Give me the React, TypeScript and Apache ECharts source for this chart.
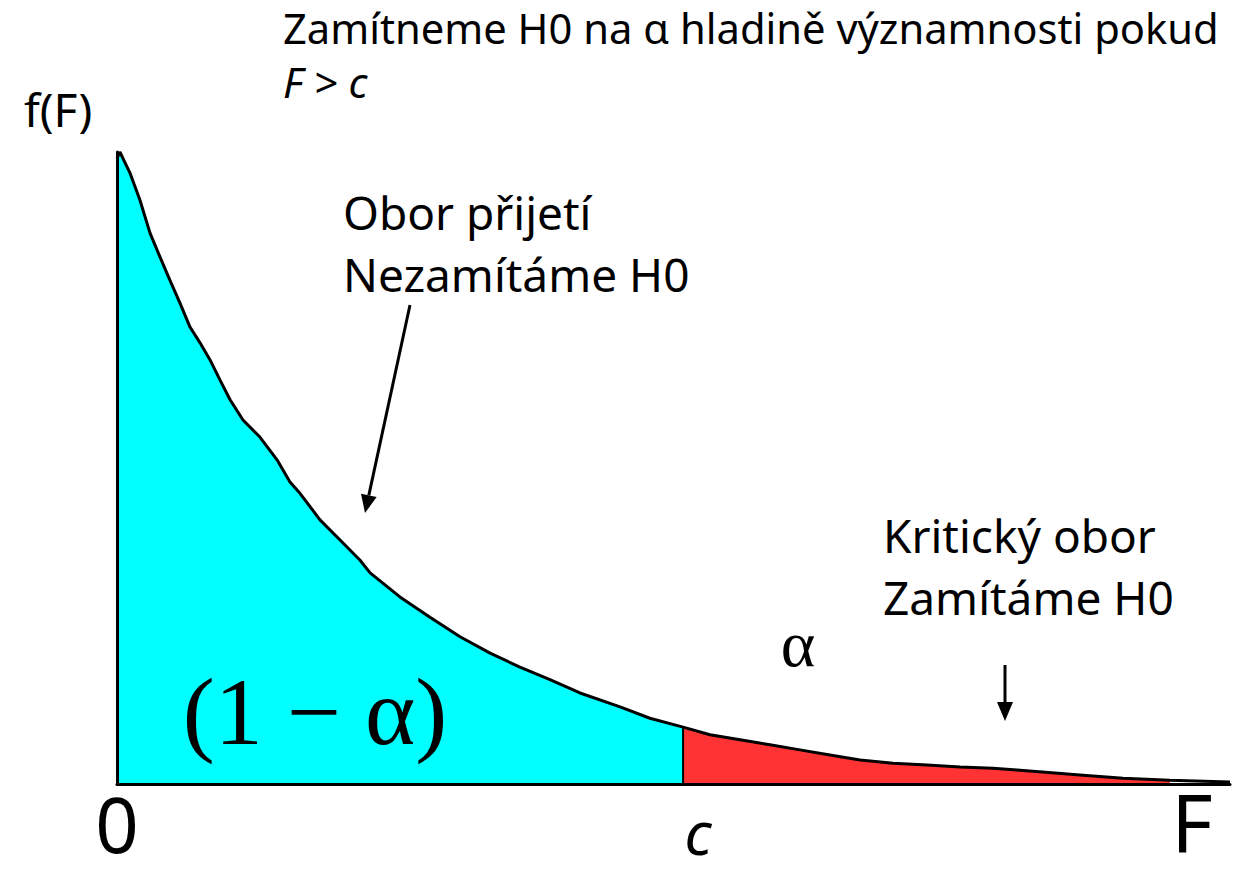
import React, { useEffect, useRef } from "react";
import * as echarts from "echarts";

// F-distribution density (x in F units 0..5, y relative to peak)
const curveX = [0, 0.013, 0.058, 0.103, 0.148, 0.193, 0.238, 0.283, 0.328, 0.373, 0.418, 0.463, 0.508, 0.566, 0.642, 0.719, 0.777, 0.822, 0.912, 1.002, 1.092, 1.137, 1.271, 1.406, 1.541, 1.676, 1.81, 1.945, 2.08, 2.26, 2.394, 2.543, 2.664, 2.799, 2.933, 3.068, 3.203, 3.338, 3.486, 3.639, 3.787, 3.935, 4.043, 4.34, 4.519, 4.73, 5.0];
const curveY = [0.99, 1.0, 0.967, 0.924, 0.872, 0.834, 0.797, 0.761, 0.723, 0.698, 0.671, 0.639, 0.608, 0.576, 0.549, 0.513, 0.478, 0.46, 0.418, 0.386, 0.354, 0.334, 0.296, 0.264, 0.233, 0.207, 0.185, 0.165, 0.144, 0.122, 0.104, 0.09, 0.078, 0.07, 0.062, 0.054, 0.046, 0.038, 0.033, 0.03, 0.027, 0.025, 0.022, 0.014, 0.009, 0.006, 0.003];
const criticalC = 2.543;
const redEnd = 4.73;
const xMax = 5;
const yMax = 1;

const titleLine1 = "Zamítneme H0 na α hladině významnosti pokud";
const titleLine2 = "F > c";
const yAxisName = "f(F)";
const acceptLines = ["Obor přijetí", "Nezamítáme H0"];
const rejectLines = ["Kritický obor", "Zamítáme H0"];
const acceptArea = "(1 − α)";
const rejectArea = "α";
const xLabels = ["0", "c", "F"];

const SANS = "'Noto Sans', 'Open Sans', sans-serif";
const SERIF = "'Liberation Serif', 'DejaVu Serif', serif";

export default function App() {
  const ref = useRef<HTMLDivElement>(null);
  useEffect(() => {
    document.body.style.margin = "0";
    if (!ref.current) return;
    const chart = echarts.init(ref.current, undefined, { renderer: "svg" });
    const pts = curveX.map((x, i) => [x, curveY[i]]);
    const cyanPts = pts.filter((p) => p[0] <= criticalC);
    const redPts = pts.filter((p) => p[0] >= criticalC && p[0] <= redEnd);
    const cIdx = curveX.indexOf(criticalC);
    const cY = curveY[cIdx];

    const txt = (text: string, x: number, y: number, size: number, opts: any = {}) => ({
      type: "text",
      x,
      y,
      z: 100,
      style: {
        text,
        fontSize: size,
        fontFamily: opts.family || SANS,
        fontStyle: opts.italic ? "italic" : "normal",
        fill: "#000",
        textAlign: opts.align || "left",
        textVerticalAlign: "middle",
      },
    });

    // arrow 1 geometry
    const a1s = [410, 305];
    const a1t = [365, 513];
    const dx = a1t[0] - a1s[0];
    const dy = a1t[1] - a1s[1];
    const len = Math.sqrt(dx * dx + dy * dy);
    const ux = dx / len;
    const uy = dy / len;
    const hl = 18;
    const hw = 8;
    const bx = a1t[0] - ux * hl;
    const by = a1t[1] - uy * hl;

    chart.setOption({
      animation: false,
      backgroundColor: "#fff",
      grid: { left: 117, right: 21, top: 152, bottom: 91, containLabel: false },
      xAxis: {
        type: "value",
        min: 0,
        max: xMax,
        z: 10,
        axisLine: { show: true, onZero: false, lineStyle: { color: "#000", width: 3 } },
        axisTick: { show: false },
        axisLabel: { show: false },
        splitLine: { show: false },
      },
      yAxis: {
        type: "value",
        min: 0,
        max: yMax,
        z: 10,
        axisLine: { show: true, lineStyle: { color: "#000", width: 3 } },
        axisTick: { show: false },
        axisLabel: { show: false },
        splitLine: { show: false },
      },
      series: [
        {
          type: "line",
          data: cyanPts,
          showSymbol: false,
          lineStyle: { width: 0 },
          areaStyle: { color: "#00FFFF", opacity: 1 },
          z: 1,
        },
        {
          type: "line",
          data: redPts,
          showSymbol: false,
          lineStyle: { width: 0 },
          areaStyle: { color: "#FF3333", opacity: 1 },
          z: 1,
        },
        {
          type: "line",
          data: [
            [criticalC, 0],
            [criticalC, cY],
          ],
          showSymbol: false,
          lineStyle: { color: "#000", width: 2 },
          z: 3,
        },
        {
          type: "line",
          data: pts,
          showSymbol: false,
          lineStyle: { color: "#000", width: 3 },
          z: 4,
        },
      ],
      graphic: [
        txt(titleLine1, 283, 27, 41.7),
        txt(titleLine2, 283, 81, 41.7, { italic: true }),
        txt(yAxisName, 24, 109, 46),
        txt(acceptLines[0], 343, 212, 46),
        txt(acceptLines[1], 343, 274, 46),
        txt(rejectLines[0], 883, 535, 46),
        txt(rejectLines[1], 883, 597, 46),
        txt(rejectArea, 798, 643, 66, { family: SERIF, align: "center" }),
        txt(acceptArea, 315, 711, 96, { family: SERIF, align: "center" }),
        txt(xLabels[0], 117, 823, 76, { align: "center" }),
        txt(xLabels[1], 698, 832, 60, { align: "center", italic: true }),
        txt(xLabels[2], 1192, 820, 80, { align: "center" }),
        {
          type: "line",
          z: 100,
          shape: { x1: a1s[0], y1: a1s[1], x2: bx, y2: by },
          style: { stroke: "#000", lineWidth: 3 },
        },
        {
          type: "polygon",
          z: 100,
          shape: {
            points: [
              [a1t[0], a1t[1]],
              [bx - uy * hw, by + ux * hw],
              [bx + uy * hw, by - ux * hw],
            ],
          },
          style: { fill: "#000" },
        },
        {
          type: "line",
          z: 100,
          shape: { x1: 1005, y1: 665, x2: 1005, y2: 704 },
          style: { stroke: "#000", lineWidth: 3 },
        },
        {
          type: "polygon",
          z: 100,
          shape: {
            points: [
              [1005, 721],
              [997, 702],
              [1013, 702],
            ],
          },
          style: { fill: "#000" },
        },
      ],
    });
    return () => chart.dispose();
  }, []);
  return <div ref={ref} style={{ width: 1251, height: 875 }} />;
}
